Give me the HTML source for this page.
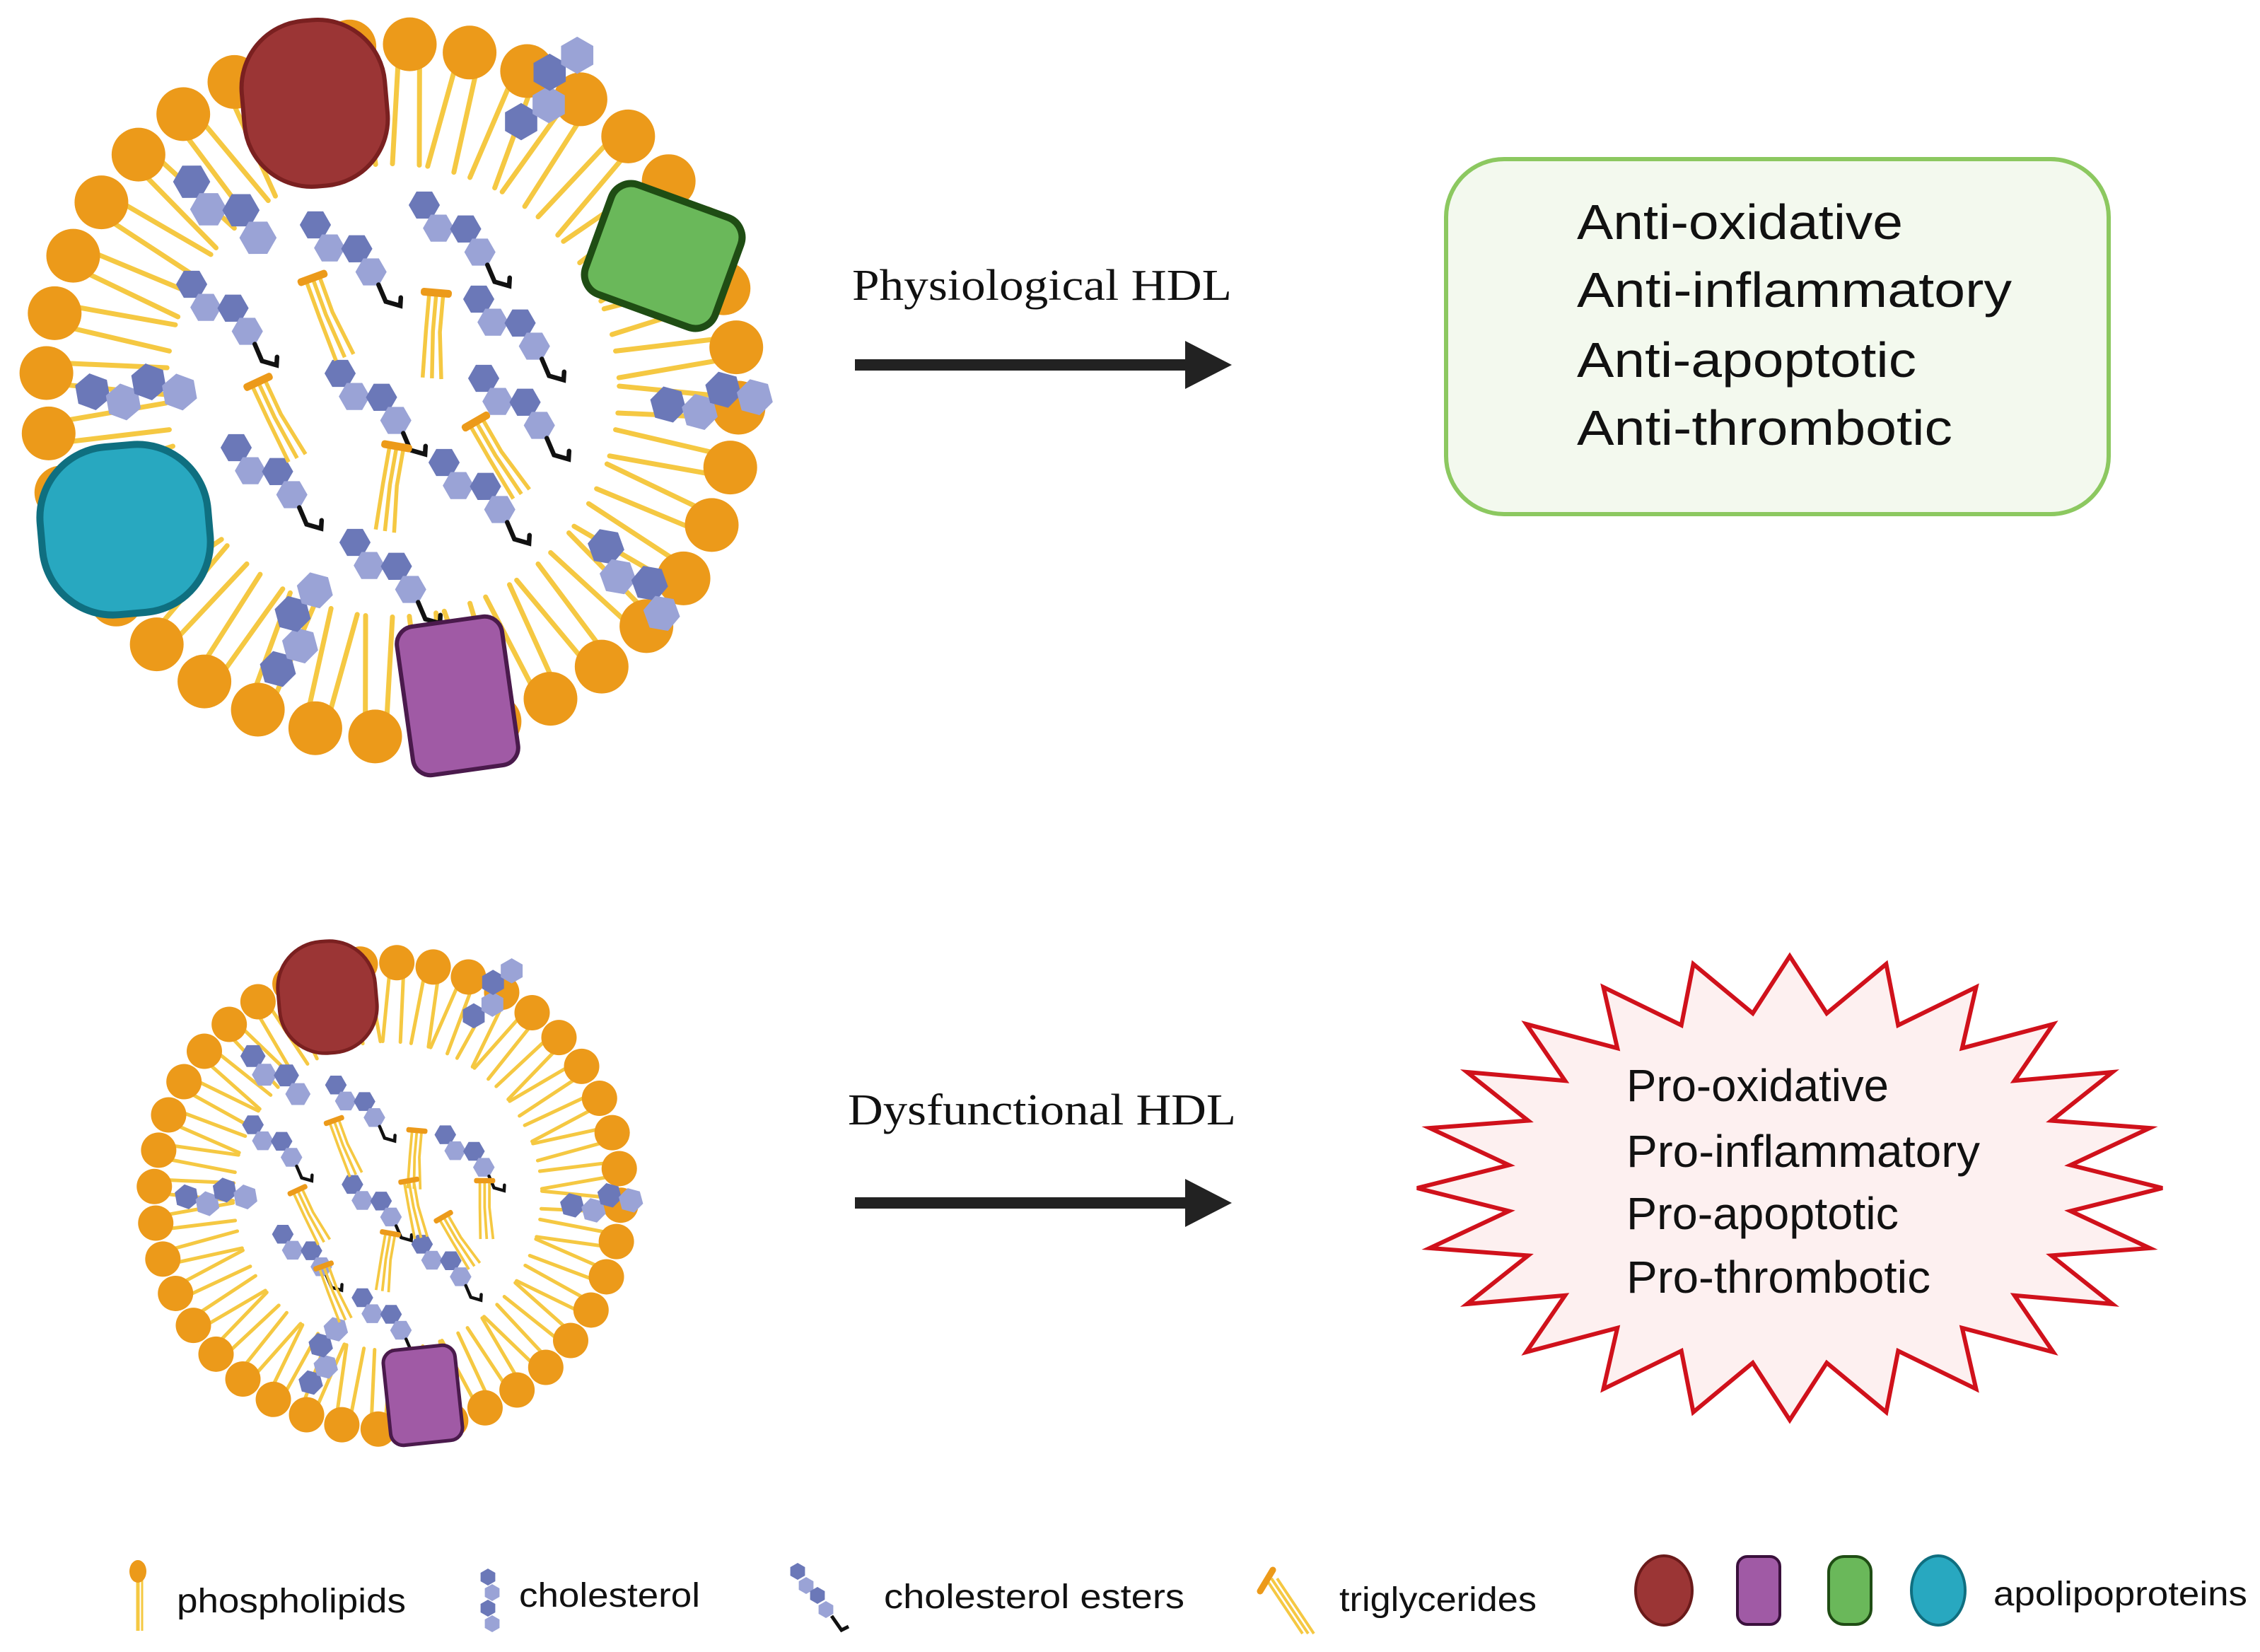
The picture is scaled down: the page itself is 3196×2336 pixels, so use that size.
<!DOCTYPE html>
<html><head><meta charset="utf-8"><style>
html,body{margin:0;padding:0;background:#fff}
svg{display:block}
</style></head><body>
<svg id="s" width="3196" height="2336" viewBox="0 0 3196 2336" xmlns="http://www.w3.org/2000/svg">
<rect width="3196" height="2336" fill="#fff"/>
<g id="big"></g>
<g id="small"></g>
<g id="legend"></g>

<rect x="1209" y="508" width="480" height="16" fill="#222"/>
<polygon points="1676,482 1742,516 1676,550" fill="#222"/>
<rect x="1209" y="1693" width="480" height="16" fill="#222"/>
<polygon points="1676,1667 1742,1701 1676,1735" fill="#222"/>
<text x="1205" y="424" font-family="Liberation Serif, serif" font-size="62" textLength="537" lengthAdjust="spacingAndGlyphs" fill="#111">Physiological HDL</text>
<text x="1199" y="1590" font-family="Liberation Serif, serif" font-size="62" textLength="549" lengthAdjust="spacingAndGlyphs" fill="#111">Dysfunctional HDL</text>

<rect x="2045" y="225" width="937" height="502" rx="82" fill="#f3f9ee" stroke="#8cc860" stroke-width="6"/>
<g font-family="Liberation Sans, sans-serif" font-size="70" fill="#111">
<text x="2230" y="338" textLength="461" lengthAdjust="spacingAndGlyphs">Anti-oxidative</text>
<text x="2230" y="434" textLength="615" lengthAdjust="spacingAndGlyphs">Anti-inflammatory</text>
<text x="2230" y="533" textLength="480" lengthAdjust="spacingAndGlyphs">Anti-apoptotic</text>
<text x="2230" y="629" textLength="531" lengthAdjust="spacingAndGlyphs">Anti-thrombotic</text>
</g>

<polygon id="star" fill="#fdf0f0" stroke="#d0111b" stroke-width="6" stroke-linejoin="miter"/>
<g font-family="Liberation Sans, sans-serif" font-size="64" fill="#111">
<text x="2300" y="1557" textLength="371" lengthAdjust="spacingAndGlyphs">Pro-oxidative</text>
<text x="2300" y="1650" textLength="500" lengthAdjust="spacingAndGlyphs">Pro-inflammatory</text>
<text x="2300" y="1738" textLength="385" lengthAdjust="spacingAndGlyphs">Pro-apoptotic</text>
<text x="2300" y="1828" textLength="430" lengthAdjust="spacingAndGlyphs">Pro-thrombotic</text>
</g>

<g font-family="Liberation Sans, sans-serif" font-size="48" fill="#111">
<text x="250" y="2280" textLength="324" lengthAdjust="spacingAndGlyphs">phospholipids</text>
<text x="734" y="2272" textLength="256" lengthAdjust="spacingAndGlyphs">cholesterol</text>
<text x="1250" y="2274" textLength="425" lengthAdjust="spacingAndGlyphs">cholesterol  esters</text>
<text x="1894" y="2278" textLength="279" lengthAdjust="spacingAndGlyphs">triglycerides</text>
<text x="2819" y="2270" textLength="359" lengthAdjust="spacingAndGlyphs">apolipoproteins</text>
</g>
</svg>
<script>
var NS="http://www.w3.org/2000/svg";
function el(p,t,a){var e=document.createElementNS(NS,t);for(var k in a)e.setAttribute(k,a[k]);p.appendChild(e);return e;}
var HEAD="#ec9a1a",TAIL="#f5c842",H1="#6b78b8",H2="#9aa3d6";
function hex(g,x,y,r,c){var p=[];for(var i=0;i<6;i++){var a=Math.PI/3*i+Math.PI/6;p.push((x+r*Math.cos(a)).toFixed(1)+","+(y+r*Math.sin(a)).toFixed(1));}el(g,"polygon",{points:p.join(" "),fill:c});}
function chol(g,x,y,ang,s,ester){
  var gg=el(g,"g",{transform:"translate("+x+","+y+") rotate("+ang+") scale("+s+")"});
  var pts=[[0,0,H1],[26,14,H2],[52,0,H1],[78,14,H2]];
  pts.forEach(function(p){hex(gg,p[0],p[1],17,p[2]);});
  if(ester){el(gg,"path",{d:"M92,22 L108,34 L124,30 L120,22",fill:"none",stroke:"#111","stroke-width":5,"stroke-linecap":"round"});}
}
function trig(g,x,y,ang,s){
  var gg=el(g,"g",{transform:"translate("+x+","+y+") rotate("+ang+") scale("+s+")"});
  for(var i=-1;i<=1;i++){el(gg,"path",{d:"M"+(i*9)+",4 L"+(i*9)+",50 L"+(i*12+4)+",110",fill:"none",stroke:TAIL,"stroke-width":5});}
  el(gg,"rect",{x:-20,y:-5,width:40,height:10,rx:4,fill:HEAD});
}
function membrane(g,cx,cy,R,hr,L,N,tw,off){
  var tails=el(g,"g",{}),heads=el(g,"g",{});
  for(var i=0;i<N;i++){
    var a=2*Math.PI*i/N+off,c=Math.cos(a),s=Math.sin(a),px=-s,py=c;
    for(var k=-1;k<=1;k+=2){
      var d1=hr*0.4*k,d2=hr*0.5*k+(i%2?3:-3);
      var r1=R-hr*0.7,r2=R-L;
      el(tails,"line",{x1:cx+c*r1+px*d1,y1:cy+s*r1+py*d1,x2:cx+c*r2+px*d2,y2:cy+s*r2+py*d2,stroke:TAIL,"stroke-width":tw,"stroke-linecap":"round"});
    }
    el(heads,"circle",{cx:cx+c*R,cy:cy+s*R,r:hr,fill:HEAD});
  }
}
function prot(g,cx,cy,w,h,rx,ang,f,st,sw){
  el(g,"rect",{x:cx-w/2,y:cy-h/2,width:w,height:h,rx:rx,fill:f,stroke:st,"stroke-width":sw,transform:"rotate("+ang+","+cx+","+cy+")"});
}
var B=document.getElementById("big");
membrane(B,555,552,490,38,170,36,7,0.05);
[[271,257,30],[737,172,-60],[131,554,-10],[945,572,-15],[857,773,40],[393,946,-75]].forEach(function(p){chol(B,p[0],p[1],p[2],1.55,false);});
[[446,318],[600,290],[271,402],[677,423],[481,528],[684,535],[334,633],[628,654],[502,767]].forEach(function(p){chol(B,p[0],p[1],30,1.3,true);});
[[442,393,-20],[617,414,5],[365,540,-25],[673,596,-30],[561,631,10]].forEach(function(p){trig(B,p[0],p[1],p[2],1.1);});
prot(B,445,146,203,235,95,-5,"#9b3535","#7a2020",6);
prot(B,938,362,195,165,30,20,"#6ab85a","#1f4d14",10);
prot(B,177,749,238,238,100,-5,"#28a8c0","#0f6f80",10);
prot(B,647,984,150,212,25,-8,"#a05aa5","#4a1a4c",6);
var S=document.getElementById("small");
var scx=548,scy=1691,k=0.67;
function mp(x,y){return [scx+(x-555)*k,scy+(y-552)*k];}
membrane(S,scx,scy,330,25,112,40,5,0.04);
[[271,257,30],[737,172,-60],[131,554,-10],[945,572,-15],[393,946,-75]].forEach(function(p){var q=mp(p[0],p[1]);chol(S,q[0],q[1],p[2],1.05,false);});
[[446,318],[271,402],[677,423],[481,528],[334,633],[628,654],[502,767]].forEach(function(p){var q=mp(p[0],p[1]);chol(S,q[0],q[1],30,0.9,true);});
[[442,393,-20],[617,414,5],[365,540,-25],[673,596,-30],[561,631,10],[760,520,0],[420,700,-20],[600,520,-10]].forEach(function(p){var q=mp(p[0],p[1]);trig(S,q[0],q[1],p[2],0.75);});
prot(S,463,1410,138,158,65,-5,"#9b3535","#7a2020",5);
prot(S,598,1973,102,135,18,-6,"#a05aa5","#4a1a4c",5);
var pts=[],cx=2531,cy=1680;
for(var i=0;i<48;i++){var a=-Math.PI/2+Math.PI*i/24,o=(i%2==0)?1:0.76;pts.push((cx+527*o*Math.cos(a)).toFixed(1)+","+(cy+328*o*Math.sin(a)).toFixed(1));}
document.getElementById("star").setAttribute("points",pts.join(" "));
var Lg=document.getElementById("legend");
el(Lg,"line",{x1:195,y1:2230,x2:195,y2:2306,stroke:TAIL,"stroke-width":5});
el(Lg,"line",{x1:201,y1:2230,x2:201,y2:2306,stroke:TAIL,"stroke-width":3});
el(Lg,"ellipse",{cx:195,cy:2222,rx:12,ry:16,fill:HEAD});
hex(Lg,690,2230,12,H1);hex(Lg,696,2252,12,H2);hex(Lg,690,2274,12,H1);hex(Lg,696,2296,12,H2);
hex(Lg,1128,2222,12,H1);hex(Lg,1140,2242,12,H2);hex(Lg,1156,2256,12,H1);hex(Lg,1168,2276,12,H2);
el(Lg,"path",{d:"M1176,2285 L1190,2305 L1200,2300",fill:"none",stroke:"#111","stroke-width":5});
for(var j=0;j<3;j++){el(Lg,"line",{x1:1790+j*8,y1:2232,x2:1842+j*8,y2:2310,stroke:TAIL,"stroke-width":4});}
el(Lg,"line",{x1:1782,y1:2250,x2:1800,y2:2220,stroke:HEAD,"stroke-width":9,"stroke-linecap":"round"});
el(Lg,"ellipse",{cx:2353,cy:2249,rx:40,ry:49,fill:"#9b3535",stroke:"#6a1a1a","stroke-width":4});
el(Lg,"rect",{x:2457,y:2201,width:60,height:96,rx:14,fill:"#a05aa5",stroke:"#3a103c","stroke-width":4});
el(Lg,"rect",{x:2586,y:2201,width:60,height:96,rx:22,fill:"#6ab85a",stroke:"#1f4d14","stroke-width":4});
el(Lg,"ellipse",{cx:2741,cy:2249,rx:38,ry:49,fill:"#28a8c0",stroke:"#0f6f80","stroke-width":4});
</script>
</body></html>
